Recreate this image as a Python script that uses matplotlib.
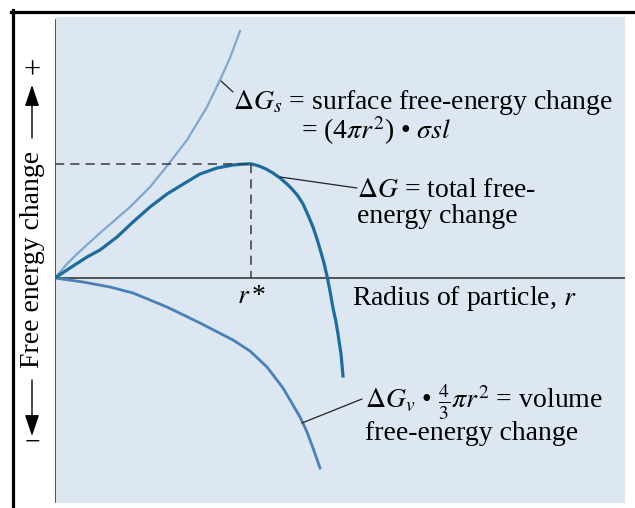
import numpy as np
import matplotlib
matplotlib.use("Agg")
import matplotlib.pyplot as plt
from matplotlib.lines import Line2D

plt.rcParams['font.family'] = ['Liberation Serif', 'DejaVu Serif']
plt.rcParams['mathtext.fontset'] = 'stix'

# curves (r = radius, g = free energy, arbitrary units)
surface_r = [0, 1.1, 2.3, 4.5, 7.5, 9.5, 11.2, 13.2, 15.2, 16.5, 17.5, 18.5]
surface_g = [0, 1.3, 2.5, 4.5, 7.1, 9.1, 11.2, 13.8, 17.1, 19.8, 22.0, 24.7]

total_r = [0, 1.5, 3.2, 4.5, 6.2, 7.8, 9.5, 11.2, 13.0, 14.5, 16.2, 17.8, 18.7, 19.6,
           20.4, 21.1, 21.8, 22.5, 23.2, 23.7, 24.3, 24.8, 25.3, 25.8, 26.2, 26.5,
           26.9, 27.2, 27.5, 27.8, 28.1, 28.3, 28.6, 28.8]
total_g = [0, 1.0, 2.1, 2.8, 4.1, 5.6, 7.1, 8.4, 9.5, 10.4, 11.0, 11.3, 11.38, 11.42,
           11.2, 10.9, 10.5, 10.0, 9.4, 8.9, 8.2, 7.4, 6.3, 5.1, 3.9, 2.9,
           1.5, 0.2, -1.3, -3.0, -4.4, -5.6, -7.6, -9.8]

volume_r = [0, 2.8, 5.5, 7.8, 11.2, 14.5, 17.8, 19.5, 21.2, 22.8, 24.5, 25.2, 25.8, 26.5]
volume_g = [0, -0.4, -0.9, -1.5, -2.9, -4.5, -6.2, -7.3, -8.9, -11.0, -13.9, -15.4, -17.0, -19.0]

W, H = 635, 508
fig = plt.figure(figsize=(W / 100, H / 100), dpi=100)
fig.patch.set_facecolor('white')

# axes placed so that the origin sits where the reference has it
ax = fig.add_axes([55 / W, 5 / H, 570 / W, 486 / H])
ax.set_xlim(0, 57)
ax.set_ylim(-22.5, 26.1)
ax.set_facecolor('#dce7f1')
for s in ax.spines.values():
    s.set_visible(False)
ax.set_xticks([])
ax.set_yticks([])

ax.axhline(0, color='#2b2b2b', lw=1.1)
ax.axvline(0, ymin=0.002, ymax=0.994, color='#2b2b2b', lw=1.1)

ax.plot(surface_r, surface_g, color='#7fa7cf', lw=1.6, solid_joinstyle='round')
ax.plot(volume_r, volume_g, color='#4a80b8', lw=2.0, solid_joinstyle='round')
ax.plot(total_r, total_g, color='#1d6c9e', lw=2.3, solid_joinstyle='round')

# dashed guides to the maximum of the total curve
ipk = int(np.argmax(total_g))
r_pk, g_pk = total_r[ipk], total_g[ipk]
ax.plot([0, r_pk], [g_pk, g_pk], color='#3a3a3a', lw=1.1, dashes=(6, 4))
ax.plot([r_pk, r_pk], [g_pk, 0], color='#3a3a3a', lw=1.1, dashes=(6, 4))

fs = 20
ax.text(r_pk, -2.5, r'$r\,$*', fontsize=fs, ha='center', va='baseline')
ax.text(29.7, -2.7, r'Radius of particle, $r$', fontsize=fs, va='baseline')

ax.text(17.8, 16.9, r'$\Delta G_s$ = surface free-energy change', fontsize=fs, va='baseline')
ax.text(24.6, 13.9, r'= (4$\pi r^2$) • $\sigma sl$', fontsize=fs, va='baseline')
ax.text(30.2, 8.1, r'$\Delta G$ = total free-', fontsize=fs, va='baseline')
ax.text(30.2, 5.5, 'energy change', fontsize=fs, va='baseline')
ax.text(31.0, -13.0, r'$\Delta G_v$ • $\frac{4}{3}\pi r^2$ = volume', fontsize=fs, va='baseline')
ax.text(31.0, -16.2, 'free-energy change', fontsize=fs, va='baseline')

# leader lines
lead = dict(arrowstyle='-', color='#222222', lw=0.9, shrinkA=0, shrinkB=0)
ax.annotate('', xy=(16.6, 19.7), xytext=(17.8, 18.6), arrowprops=lead)
ax.annotate('', xy=(22.5, 10.1), xytext=(30.2, 9.0), arrowprops=lead)
ax.annotate('', xy=(24.7, -14.5), xytext=(30.7, -12.1), arrowprops=lead)

# y label with arrows
fig.text(33 / W, 1 - 259 / H, 'Free energy change', fontsize=fs, rotation=90,
         ha='center', va='center')
fig.text(32 / W, 1 - 71 / H, '+', fontsize=fs + 2, ha='center', va='center')
fig.text(32 / W, 1 - 443 / H, '\u2212', fontsize=fs, ha='center', va='center')
arr = dict(arrowstyle='-|>,head_length=0.65,head_width=0.22', color='black', lw=1.0,
           shrinkA=0, shrinkB=0, mutation_scale=20)
ax.annotate('', xy=(32 / W, 1 - 85 / H), xytext=(32 / W, 1 - 138 / H),
            xycoords='figure fraction', textcoords='figure fraction', arrowprops=arr)
ax.annotate('', xy=(32 / W, 1 - 436 / H), xytext=(32 / W, 1 - 380 / H),
            xycoords='figure fraction', textcoords='figure fraction', arrowprops=arr)

# black frame on top and left
fig.add_artist(Line2D([12.5 / W, 12.5 / W], [0, 1 - 10 / H], color='black', lw=2.3))
fig.add_artist(Line2D([11 / W, 1], [1 - 11.5 / H, 1 - 11.5 / H], color='black', lw=2.3))

fig.savefig('out.png', dpi=100)
